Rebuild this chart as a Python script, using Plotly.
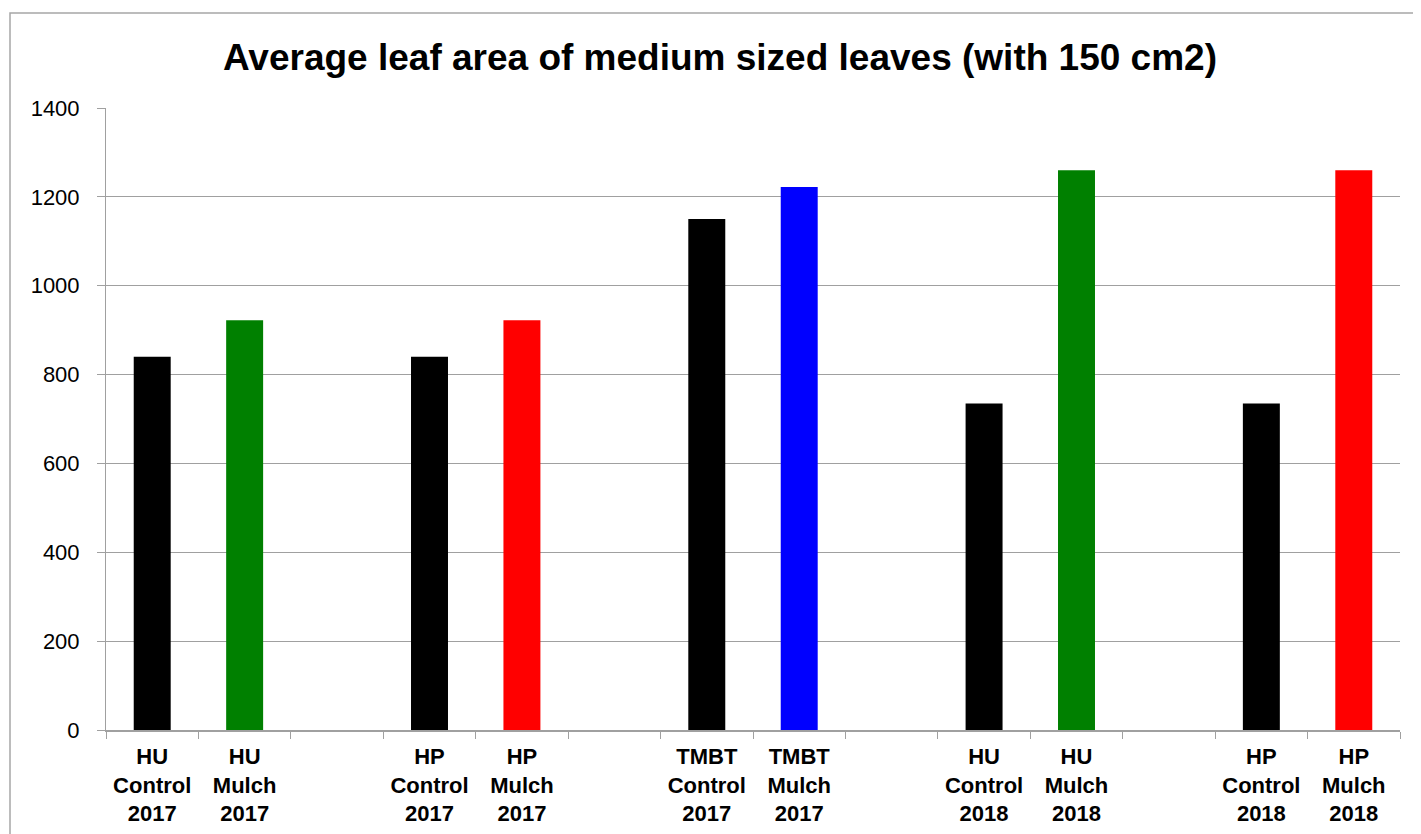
import plotly.graph_objects as go

# categories (blank slots keep the gaps between groups)
categories = [
    "HU<br>Control<br>2017", "HU<br>Mulch<br>2017", " ",
    "HP<br>Control<br>2017", "HP<br>Mulch<br>2017", "  ",
    "TMBT<br>Control<br>2017", "TMBT<br>Mulch<br>2017", "   ",
    "HU<br>Control<br>2018", "HU<br>Mulch<br>2018", "    ",
    "HP<br>Control<br>2018", "HP<br>Mulch<br>2018",
]
leaf_area = [840, 922, None, 840, 922, None, 1150, 1222, None, 735, 1260, None, 735, 1260]
bar_colors = ["#000000", "#008000", "#ffffff", "#000000", "#ff0000", "#ffffff",
              "#000000", "#0000ff", "#ffffff", "#000000", "#008000", "#ffffff",
              "#000000", "#ff0000"]
y_ticks = [0, 200, 400, 600, 800, 1000, 1200, 1400]

GRID = "#a0a0a0"
FONT = "Liberation Sans, Arial"

fig = go.Figure(
    go.Bar(
        x=categories,
        y=leaf_area,
        marker={"color": bar_colors, "line": {"width": 0}},
        hoverinfo="x+y",
    )
)

# the page body adds an 8px offset, so the figure is a bit smaller
W, H = 1413, 826
L, R, T, B = 98, 21, 100, 104
pw, ph = W - L - R, H - T - B

fig.update_layout(
    width=W,
    height=H,
    margin={"l": L, "r": R, "t": T, "b": B, "pad": 0},
    paper_bgcolor="white",
    plot_bgcolor="white",
    bargap=0.6,
    showlegend=False,
    title={
        "text": "<b>Average leaf area of medium sized leaves (with 150 cm2)</b>",
        "x": (720 - 8) / W,
        "xanchor": "center",
        "y": 1 - (57 - 8) / H,
        "yanchor": "middle",
        "font": {"family": FONT, "size": 37, "color": "black"},
    },
    xaxis={
        "type": "category",
        "automargin": False,
        "tickson": "boundaries",
        "ticks": "outside",
        "ticklen": 7,
        "tickcolor": GRID,
        "showline": True,
        "linecolor": GRID,
        "linewidth": 1.5,
        "showgrid": False,
        "ticklabelstandoff": 6,
        "tickfont": {"family": FONT, "size": 22, "color": "black", "weight": "bold"},
        "tickangle": 0,
    },
    yaxis={
        "range": [0, 1400],
        "automargin": False,
        "tickvals": y_ticks,
        "ticks": "outside",
        "ticklen": 8,
        "tickcolor": GRID,
        "showline": True,
        "linecolor": GRID,
        "linewidth": 1,
        "showgrid": True,
        "gridcolor": GRID,
        "gridwidth": 1,
        "zeroline": False,
        "ticklabelstandoff": 13,
        "tickfont": {"family": FONT, "size": 22, "color": "black"},
    },
    shapes=[
        {
            "type": "rect",
            "xref": "paper",
            "yref": "paper",
            "x0": (2 - L) / pw,
            "x1": (W + 20 - L) / pw,
            "y0": -(B + 20) / ph,
            "y1": 1 + (T - 5) / ph,
            "line": {"color": "#a6a6a6", "width": 1.5},
            "layer": "below",
        }
    ],
)

fig.write_html("out.html")
